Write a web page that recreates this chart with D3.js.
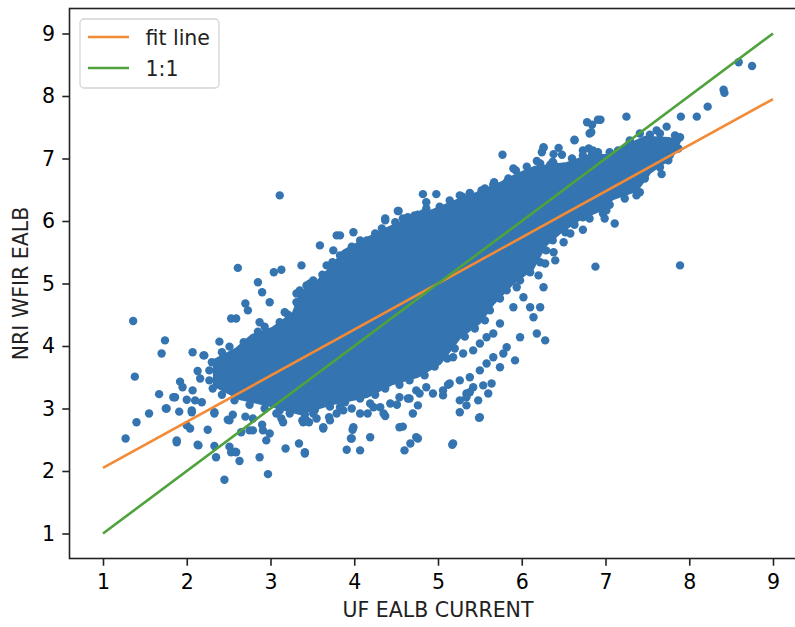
<!DOCTYPE html>
<html>
<head>
<meta charset="utf-8">
<style>
  body { margin: 0; background: #fff; }
  text { font-family: "DejaVu Sans", sans-serif; fill: #000; }
</style>
</head>
<body>

<div id="chart"></div>

<script src="https://cdn.jsdelivr.net/npm/d3@7"></script>
<script>

// ---- data ----
var xTicks = [1, 2, 3, 4, 5, 6, 7, 8, 9];
var yTicks = [1, 2, 3, 4, 5, 6, 7, 8, 9];
var xLabel = "UF EALB CURRENT";
var yLabel = "NRI WFIR EALB";
var legendLabels = ["fit line", "1:1"];

// fit line and 1:1 line end points
var fitX = [1, 9];
var fitY = [2.05, 7.95];
var oneX = [1, 9];
var oneY = [1, 9];

// outline of the solid, fully overplotted core of the cloud
var denseCore = [
  [2.33,3.37],[2.33,3.77],[2.60,3.96],[2.78,4.17],[3.02,4.28],[3.27,4.52],[3.37,4.86],[3.56,5.03],
  [3.71,5.24],[3.89,5.53],[4.15,5.72],[4.39,5.88],[4.66,6.04],[4.94,6.17],[5.23,6.33],[5.46,6.44],
  [5.74,6.60],[5.94,6.74],[6.16,6.86],[6.54,6.92],[6.81,7.05],[7.05,7.05],[7.26,7.21],[7.47,7.34],
  [7.75,7.32],[7.89,7.29],[7.79,7.02],[7.53,6.78],[7.37,6.49],[7.09,6.36],[6.93,6.17],[6.70,6.04],
  [6.46,5.82],[6.28,5.61],[6.13,5.24],[5.89,5.00],[5.66,4.68],[5.50,4.38],[5.26,4.14],[5.02,3.72],
  [4.75,3.51],[4.46,3.40],[4.15,3.19],[3.74,3.08],[3.35,2.92],[2.99,3.05],[2.63,3.16]
];

// points sitting on the rim of the core
var edgePoints = [
  [2.42,3.90],[2.51,3.99],[2.68,4.06],[2.85,4.23],[2.93,4.31],[3.11,4.38],[3.21,4.50],[3.31,4.70],
  [3.35,4.89],[3.47,5.00],[3.62,5.14],[3.74,5.34],[3.83,5.45],[3.97,5.59],[4.07,5.69],[4.25,5.80],
  [4.33,5.88],[4.49,5.98],[4.58,6.04],[4.76,6.10],[4.86,6.20],[5.02,6.23],[5.14,6.33],[5.29,6.39],
  [5.38,6.44],[5.56,6.52],[5.67,6.62],[5.84,6.68],[5.93,6.81],[6.06,6.87],[6.22,6.92],[6.37,6.95],
  [6.60,7.00],[6.73,7.05],[6.91,7.10],[7.15,7.13],[7.29,7.26],[7.53,7.38],[7.65,7.40],[7.83,7.37],
  [7.87,7.16],[7.75,6.97],[7.65,6.86],[7.47,6.68],[7.41,6.46],[7.23,6.36],[7.05,6.26],[6.97,6.12],
  [6.81,6.04],[6.63,5.94],[6.52,5.82],[6.37,5.69],[6.29,5.53],[6.22,5.34],[6.10,5.18],[5.98,5.05],
  [5.82,4.89],[5.74,4.76],[5.62,4.57],[5.56,4.41],[5.44,4.28],[5.32,4.15],[5.20,3.96],[5.11,3.80],
  [4.96,3.67],[4.84,3.53],[4.66,3.45],[4.54,3.38],[4.37,3.32],[4.25,3.22],[4.07,3.16],[3.89,3.10],
  [3.71,3.03],[3.53,2.98],[3.41,2.90],[3.23,2.92],[3.11,2.97],[2.93,3.00],[2.75,3.06],[2.57,3.13],
  [2.42,3.22],[2.31,3.32],[2.27,3.45],[2.27,3.61],[2.30,3.74]
];

// scattered points outside the core
var sparsePoints = [
  [1.36,4.40],[1.74,4.09],[1.70,3.88],[1.38,3.51],[1.67,3.23],[1.55,2.92],[1.75,3.00],[1.40,2.78],
  [1.27,2.52],[1.88,2.46],[2.07,3.90],[2.20,3.85],[2.13,3.60],[2.16,3.48],[1.92,3.43],[1.95,3.34],
  [1.86,3.18],[2.07,3.29],[2.00,3.14],[1.91,2.95],[2.10,3.13],[2.06,2.97],[2.00,2.73],[2.04,2.68],
  [2.13,2.42],[2.25,2.66],[2.33,2.92],[2.33,2.40],[2.35,2.22],[2.45,1.86],[2.51,2.39],[2.53,2.30],
  [2.58,2.31],[2.63,2.16],[2.87,2.22],[2.97,1.95],[2.70,2.87],[2.49,2.82],[2.55,2.90],[2.79,2.65],
  [2.90,2.74],[2.99,2.60],[2.95,2.49],[3.13,2.84],[3.18,2.36],[3.34,2.44],[3.41,2.28],[3.38,2.81],
  [3.46,2.78],[3.63,2.68],[3.70,2.86],[2.39,4.07],[2.53,4.44],[2.59,4.44],[2.70,4.68],[2.85,5.02],
  [2.90,4.86],[2.61,5.25],[3.11,6.41],[3.04,5.18],[3.13,5.22],[3.59,5.61],[3.75,5.53],[3.79,5.77],
  [2.73,4.57],[2.99,4.70],[2.87,4.38],[3.17,4.54],[3.31,4.84],[3.43,4.97],[2.21,3.85],[1.84,3.18],
  [2.18,3.10],[1.76,3.00],[2.06,2.94],[2.33,2.94],[1.88,2.49],[2.14,2.41],[2.51,2.81],[2.65,2.62],
  [2.75,2.65],[2.91,2.65],[2.59,2.30],[3.41,2.30],[3.39,2.78],[2.79,2.84],[3.07,2.92],[3.15,2.78],
  [3.55,2.84],[3.71,2.81],[3.79,2.92],
  [3.43,2.81],[3.63,2.70],[3.99,2.70],[3.97,2.52],[4.19,2.54],[4.54,2.70],[4.64,3.16],[4.74,2.54],
  [5.18,2.44],[5.50,2.86],[5.26,3.13],[5.34,3.24],[5.42,3.34],[5.54,3.37],[5.64,3.40],[5.74,3.66],
  [5.92,3.77],[5.82,3.98],[5.98,4.14],[6.28,4.09],[6.18,4.20],[6.14,4.46],[6.22,4.62],[6.10,4.62],
  [6.02,4.78],[6.26,4.94],[6.20,5.13],[5.94,4.94],[5.90,4.62],[5.74,4.36],[5.66,4.20],[5.58,4.14],
  [5.50,4.04],[5.42,3.93],[5.30,3.88],[5.18,3.82],[5.78,3.88],[5.66,3.82],[5.58,3.72],[5.50,3.61],
  [5.38,3.50],[5.26,3.45],[5.14,3.40],[5.06,3.29],[4.94,3.24],[4.86,3.34],[4.74,3.29],[4.54,3.18],
  [4.43,3.08],[4.35,2.92],[4.23,3.02],[4.07,2.92],[3.87,2.97],[3.51,2.92],[3.98,2.66],[3.96,2.52],
  [3.91,2.34],[4.07,2.33],[4.16,2.92],[4.37,2.88],[4.58,2.71],[4.67,2.44],[4.76,2.52],[4.60,2.33],
  [4.70,2.92],[4.76,3.05],[4.66,3.16],[4.51,3.06],[5.17,2.42],[5.26,2.94],[5.34,3.05],[5.48,3.13],
  [5.49,2.85],[5.34,3.18],[5.38,3.26],[5.60,3.24],[5.06,3.21],[5.12,3.38],[4.78,3.24],[4.31,3.02],
  [4.19,3.08],[3.97,3.00],[3.83,3.02],[6.88,5.27],
  [5.77,7.06],[5.90,6.84],[6.18,6.96],[6.26,7.17],[6.38,7.07],[6.44,7.17],[6.48,7.06],[6.34,6.90],
  [6.42,6.85],[6.63,7.29],[6.78,7.58],[6.84,7.54],[6.81,7.40],[6.91,7.62],[6.80,7.16],[6.84,7.07],
  [6.62,6.81],[6.14,6.78],[6.06,6.75],[5.98,6.70],[5.66,6.58],[5.82,6.62],[5.52,6.49],[5.38,6.45],
  [5.28,6.39],[4.82,6.43],[4.98,6.43],[4.86,6.30],[4.53,6.16],[4.37,6.04],[4.64,6.06],[4.72,6.09],
  [4.82,6.12],[4.94,6.12],[5.10,6.17],[5.48,6.30],[6.24,7.10],[5.26,6.41],[4.52,6.16],[4.37,6.01],
  [4.64,6.01],[3.83,5.77],[3.99,5.82],[3.89,5.48],[4.15,5.69],[3.37,5.29],[3.67,5.29],[3.51,5.05],
  [8.59,8.54],[8.75,8.48],[8.41,8.10],[8.42,8.05],[8.22,7.83],[8.09,7.67],[7.90,7.67],[7.25,7.67],
  [6.94,7.62],[6.83,7.42],[6.63,7.30],[7.73,7.51],[7.89,7.34],[7.61,7.45],[7.41,7.40],[7.29,7.29],
  [7.73,7.02],[7.67,6.75],[7.59,6.92],[7.37,6.49],[7.37,6.41],[7.11,5.96],[6.99,6.04],[6.73,5.86],
  [6.58,5.80],[6.50,5.66],[6.38,5.50],[6.40,5.37],[6.28,5.32],[6.26,7.18],[6.38,6.92],[7.05,7.10],
  [6.85,7.13],[6.73,7.13],[7.13,6.75],[7.29,6.92],[7.21,6.60],[7.01,6.17],[6.73,6.06],[6.66,6.28],
  [6.81,6.33],[7.89,5.29]
];

// ---- layout ----
var W = 795, H = 627;
var margin = {top: 8.5, left: 69.5, right: -11.5, bottom: 68.5},
    width = W - margin.left - margin.right,
    height = H - margin.top - margin.bottom;

var blue = "#3474b0", orange = "#f28a36", green = "#4fa23c";
var fontSize = 20.5;

var x = d3.scaleLinear().domain([0.6, 9.4]).range([0, width]);
var y = d3.scaleLinear().domain([0.6, 9.4]).range([height, 0]);

var svg = d3.select("#chart").append("svg")
    .attr("width", W)
    .attr("height", H)
  .append("g")
    .attr("transform", "translate(" + margin.left + "," + margin.top + ")");

// core of the cloud
svg.append("path")
    .datum(denseCore)
    .attr("d", d3.line().x(function(d) { return x(d[0]); }).y(function(d) { return y(d[1]); }).curve(d3.curveLinearClosed))
    .attr("fill", blue)
    .attr("stroke", blue)
    .attr("stroke-width", 3)
    .attr("stroke-linejoin", "round");

// scatter points
svg.append("g")
  .selectAll("circle")
  .data(edgePoints.concat(sparsePoints))
  .enter().append("circle")
    .attr("cx", function(d) { return x(d[0]); })
    .attr("cy", function(d) { return y(d[1]); })
    .attr("r", 4.2)
    .attr("fill", blue);

// lines
var line = d3.line().x(function(d) { return x(d[0]); }).y(function(d) { return y(d[1]); });
svg.append("path")
    .datum(d3.zip(fitX, fitY))
    .attr("d", line)
    .attr("fill", "none").attr("stroke", orange).attr("stroke-width", 2.6);
svg.append("path")
    .datum(d3.zip(oneX, oneY))
    .attr("d", line)
    .attr("fill", "none").attr("stroke", green).attr("stroke-width", 2.6);

// axes
var xAxis = svg.append("g")
    .attr("transform", "translate(0," + height + ")")
    .call(d3.axisBottom(x).tickValues(xTicks).tickFormat(d3.format("d"))
      .tickSize(7.2).tickPadding(8.5).tickSizeOuter(0));
var yAxis = svg.append("g")
    .call(d3.axisLeft(y).tickValues(yTicks).tickFormat(d3.format("d"))
      .tickSize(7.2).tickPadding(7.2).tickSizeOuter(0));

[xAxis, yAxis].forEach(function(g) {
  g.select(".domain").remove();
  g.selectAll(".tick line").attr("stroke", "#222").attr("stroke-width", 1.6);
  g.selectAll(".tick text")
    .style("font-family", "'DejaVu Sans', sans-serif")
    .style("font-size", fontSize + "px")
    .attr("fill", "#222");
});

// spines
svg.append("rect")
    .attr("x", 0).attr("y", 0)
    .attr("width", width).attr("height", height)
    .attr("fill", "none").attr("stroke", "#222").attr("stroke-width", 1.6);

// axis labels
svg.append("text")
    .attr("x", width / 2)
    .attr("y", 617 - margin.top)
    .attr("text-anchor", "middle")
    .style("font-size", fontSize + "px")
    .style("fill", "#222")
    .text(xLabel);

svg.append("text")
    .attr("transform", "translate(" + (28 - margin.left) + "," + (height / 2) + ") rotate(-90)")
    .attr("text-anchor", "middle")
    .style("font-size", fontSize + "px")
    .style("fill", "#222")
    .text(yLabel);

// legend
var legend = svg.append("g").attr("transform", "translate(10.5,10.5)");
legend.append("rect")
    .attr("width", 139).attr("height", 69)
    .attr("rx", 4)
    .attr("fill", "#fff").attr("fill-opacity", 0.8)
    .attr("stroke", "#d4d4d4").attr("stroke-width", 1.3);

var legendColors = [orange, green];
legendLabels.forEach(function(lab, i) {
  var cy = 18 + i * 31;
  legend.append("line")
      .attr("x1", 8).attr("x2", 49)
      .attr("y1", cy).attr("y2", cy)
      .attr("stroke", legendColors[i]).attr("stroke-width", 2.6);
  legend.append("text")
      .attr("x", 65.5)
      .attr("y", cy + 7.5)
      .style("font-size", fontSize + "px")
      .style("fill", "#222")
      .text(lab);
});

</script>
</body>
</html>
